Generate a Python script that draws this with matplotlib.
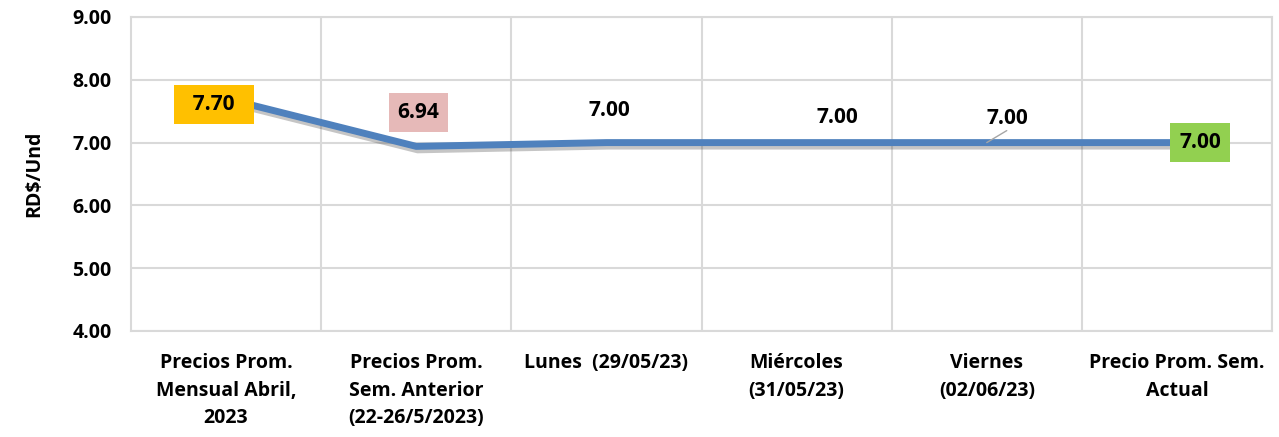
import matplotlib.pyplot as plt
import matplotlib.patheffects as pe
from matplotlib.ticker import FixedLocator

# ---------- data ----------
categories = [
    "Precios Prom.\nMensual Abril,\n2023",
    "Precios Prom.\nSem. Anterior\n(22-26/5/2023)",
    "Lunes  (29/05/23)",
    "Miércoles\n(31/05/23)",
    "Viernes\n(02/06/23)",
    "Precio Prom. Sem.\nActual",
]
prices = [7.70, 6.94, 7.00, 7.00, 7.00, 7.00]
label_colors = ["#FFC000", "#E6B9B8", None, None, None, "#92D050"]
# label offsets (pixels) from each point
label_offsets = [(-12, -6), (2, 34), (3, 32), (41, 25), (21, 24), (23, 0)]

plt.rcParams['font.family'] = ['Open Sans', 'DejaVu Sans']
plt.rcParams['font.weight'] = 'bold'

fig = plt.figure(figsize=(12.79, 4.37), dpi=100)
ax = fig.add_axes([131 / 1279, 1 - 331 / 437, 1141 / 1279, 314 / 437])

x = list(range(len(categories)))
ax.plot(x, prices, color="#4F81BD", lw=5, solid_joinstyle="miter", zorder=3,
        path_effects=[pe.SimpleLineShadow(offset=(1, -2.5), shadow_color="#404040", alpha=0.3),
                      pe.Normal()])

ax.set_xlim(-0.5, len(categories) - 0.5)
ax.set_ylim(4, 9)
ax.set_yticks([4, 5, 6, 7, 8, 9])
ax.set_yticklabels([f"{v:.2f}" for v in [4, 5, 6, 7, 8, 9]], fontsize=14, fontweight="bold")
ax.set_xticks(x)
ax.set_xticklabels(categories, fontsize=14, fontweight="bold", linespacing=1.5, va="top")
ax.xaxis.set_minor_locator(FixedLocator([i + 0.5 for i in x]))
ax.tick_params(axis="both", which="both", length=0)
ax.tick_params(axis="x", pad=16)
ax.tick_params(axis="y", pad=14)

ax.grid(True, axis="y", which="major", color="#D9D9D9", lw=1.5)
ax.grid(True, axis="x", which="minor", color="#D9D9D9", lw=1.5)
ax.set_axisbelow(True)
for s in ax.spines.values():
    s.set_color("#D9D9D9")
    s.set_linewidth(1.5)

ax.set_ylabel("RD$/Und", fontsize=14, fontweight="bold", labelpad=20)

for i, (v, c, off) in enumerate(zip(prices, label_colors, label_offsets)):
    box = None
    txt = f"{v:.2f}"
    if c is not None:
        box = dict(boxstyle="square,pad=0.42", fc=c, ec="none")
        if i == 0:
            txt = f"  {txt}  "
    ax.annotate(txt, (i, v), xytext=off, textcoords="offset pixels",
                ha="center", va="center", fontsize=15, fontweight="bold",
                bbox=box, zorder=5)

# leader line for Viernes label
ax.annotate("", (4, prices[4]), xytext=(20, 12), textcoords="offset pixels",
            arrowprops=dict(arrowstyle="-", color="#A6A6A6", lw=1, shrinkA=0, shrinkB=0))

fig.savefig("out.png", dpi=100)
